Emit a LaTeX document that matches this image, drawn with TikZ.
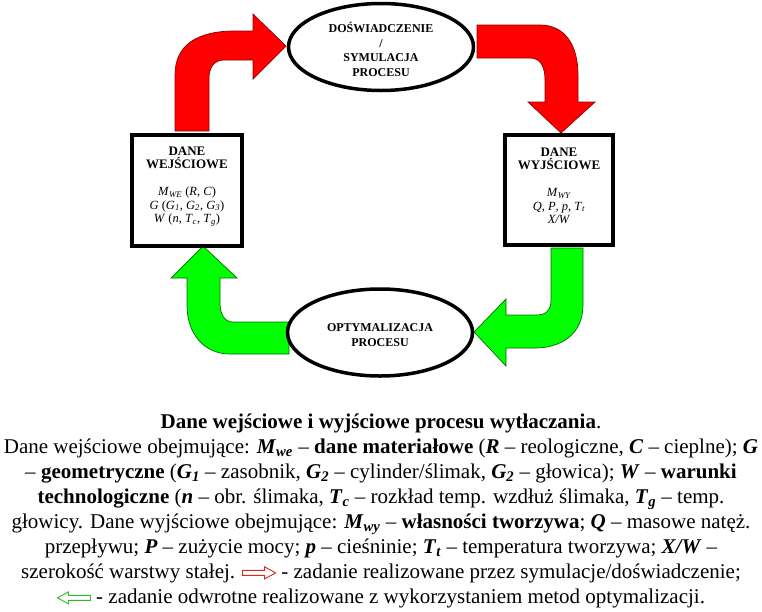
\documentclass[tikz,border=0pt]{standalone}
\usepackage{fontspec}
\setmainfont{Liberation Serif}
\usetikzlibrary{shapes.geometric}
\definecolor{arrred}{RGB}{255,0,0}
\definecolor{arrredline}{RGB}{140,0,0}
\definecolor{arrgreen}{RGB}{0,255,0}
\definecolor{arrgreenline}{RGB}{0,110,0}
\definecolor{legred}{RGB}{215,40,40}
\definecolor{leggreen}{RGB}{40,190,40}
\newcommand{\BI}[1]{\textbf{\textit{#1}}}
\newcommand{\legarrowR}{\raisebox{-0.8pt}{\tikz[x=1pt,y=1pt]\draw[legred,line width=0.9pt,line join=miter] (0,-2.5) -- (22,-2.5) -- (22,-6) -- (33,0) -- (22,6) -- (22,2.5) -- (0,2.5) -- cycle;}}
\newcommand{\legarrowL}{\raisebox{-0.8pt}{\tikz[x=1pt,y=1pt]\draw[leggreen,line width=0.9pt,line join=miter] (33,-2.5) -- (11,-2.5) -- (11,-6) -- (0,0) -- (11,6) -- (11,2.5) -- (33,2.5) -- cycle;}}
\begin{document}
\begin{tikzpicture}[x=1pt,y=-1pt,
  blockred/.style={fill=arrred,draw=arrredline,line width=0.7pt},
  blockgreen/.style={fill=arrgreen,draw=arrgreenline,line width=0.7pt},
  databox/.style={draw=black,fill=white,line width=4pt,inner sep=0pt},
  procoval/.style={ellipse,draw=black,fill=white,line width=3.5pt,inner sep=0pt,minimum width=185pt,minimum height=87pt},
  boxlabel/.style={align=center,font=\fontsize{12.5}{13.5}\selectfont,inner sep=0pt,anchor=base},
  ovallabel/.style={align=center,font=\fontsize{12}{14.5}\selectfont\bfseries,inner sep=0pt,anchor=base},
  captiontext/.style={align=center,font=\fontsize{21}{25}\selectfont,inner sep=0pt,anchor=base}]
\useasboundingbox[fill=white] (0,0) rectangle (762,611);

% block arrows
\draw[blockred] (175,131) -- (175,75) .. controls (175,45) and (197,31) .. (235,31) -- (253,31) -- (253,14) -- (286,46) -- (253,79) -- (253,60) -- (224,60) .. controls (214,60) and (209,68) .. (209,78) -- (209,131) -- cycle;
\draw[blockred] (477,25) -- (540,25) .. controls (565,25) and (578,45) .. (578,75) -- (578,102) -- (595,102) -- (561,133) -- (528,102) -- (545,102) -- (545,80) .. controls (545,66) and (540,58) .. (530,58) -- (477,58) -- cycle;
\draw[blockgreen] (551,248) -- (583,248) -- (583,305) .. controls (583,335) and (560,348) .. (535,348) -- (506,348) -- (506,366) -- (474,332) -- (506,299) -- (506,315) -- (537,315) .. controls (546,315) and (551,310) .. (551,300) -- cycle;
\draw[blockgreen] (289,322) -- (233,322) .. controls (225,322) and (220,315) .. (220,303) -- (220,278) -- (237,278) -- (203,246) -- (171,278) -- (187,278) -- (187,305) .. controls (187,335) and (205,354) .. (230,354) -- (289,354) -- cycle;

% boxes
\node[databox,minimum width=110pt,minimum height=111pt] (inbox) at (187,190.5) {};
\node[databox,minimum width=108pt,minimum height=110pt] (outbox) at (559,190) {};
\node[boxlabel] (intext) at (187,222.5) {{\fontsize{13}{13.5}\selectfont\textbf{DANE}}\\{\fontsize{13}{13.5}\selectfont\textbf{WEJŚCIOWE}}\\[13.5pt]
  \textit{M}\textsubscript{\textit{WE}} (\textit{R}, \textit{C})\\
  \textit{G} (\textit{G}\textsubscript{\textit{1}}, \textit{G}\textsubscript{\textit{2}}, \textit{G}\textsubscript{\textit{3}})\\
  \textit{W} (\textit{n}, \textit{T}\textsubscript{\textit{c}}, \textit{T}\textsubscript{\textit{g}})};
\node[boxlabel] (outtext) at (559,223.5) {{\fontsize{13}{13.5}\selectfont\textbf{DANE}}\\{\fontsize{13}{13.5}\selectfont\textbf{WYJŚCIOWE}}\\[13.5pt]
  \textit{M}\textsubscript{\textit{WY}}\\
  \textit{Q}, \textit{P}, \textit{p}, \textit{T}\textsubscript{\textit{t}}\\
  \textit{X/W}};

% ovals
\node[procoval] (sim) at (381,47) {};
\node[ovallabel] (simtext) at (381,76) {DOŚWIADCZENIE\\/\\SYMULACJA\\PROCESU};
\node[procoval] (opt) at (380,332.5) {};
\node[ovallabel] (opttext) at (380,346) {OPTYMALIZACJA\\PROCESU};

% caption
\node[captiontext] (caption) at (381,603.5) {\textbf{Dane wejściowe i wyjściowe procesu wytłaczania}.\\
Dane wejściowe obejmujące: \BI{M}\textsubscript{\BI{we}} – \textbf{dane materiałowe} (\BI{R} – reologiczne, \BI{C} – cieplne); \BI{G}\\
– \textbf{geometryczne} (\BI{G}\textsubscript{\BI{1}} – zasobnik, \BI{G}\textsubscript{\BI{2}} – cylinder/ślimak, \BI{G}\textsubscript{\BI{2}} – głowica); \BI{W} – \textbf{warunki}\\
\textbf{technologiczne} (\BI{n} – obr. ślimaka, \BI{T}\textsubscript{\BI{c}} – rozkład temp. wzdłuż ślimaka, \BI{T}\textsubscript{\BI{g}} – temp.\\
głowicy. Dane wyjściowe obejmujące: \BI{M}\textsubscript{\BI{wy}} – \textbf{własności tworzywa}; \BI{Q} – masowe natęż.\\
przepływu; \BI{P} – zużycie mocy; \BI{p} – cieśninie; \BI{T}\textsubscript{\BI{t}} – temperatura tworzywa; \BI{X/W} –\\
szerokość warstwy stałej. \legarrowR{} - zadanie realizowane przez symulacje/doświadczenie;\\
\legarrowL{} - zadanie odwrotne realizowane z wykorzystaniem metod optymalizacji.};
\end{tikzpicture}
\end{document}
